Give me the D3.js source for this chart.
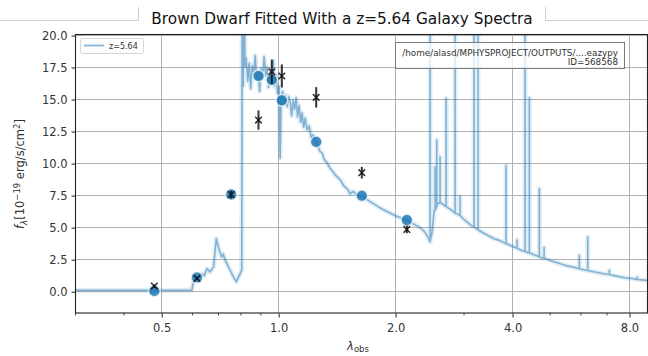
<!DOCTYPE html>
<html>
<head>
<meta charset="utf-8">
<script src="https://cdn.jsdelivr.net/npm/d3@7"></script>
<style>
  html, body { margin: 0; padding: 0; background: #fff; }
  svg { display: block; font-family: "DejaVu Sans", sans-serif; }
</style>
</head>
<body>
<svg id="chart" width="648" height="356"></svg>
<script>
// Template spectrum, continuum samples (wavelength in micron, f_lambda in 1e-19 erg/s/cm2)
const specWave = [0.300, 0.600, 0.605, 0.619, 0.636, 0.645, 0.656, 0.668, 0.682, 0.693, 0.702, 0.709, 0.716, 0.722, 0.731, 0.745, 0.760, 0.780, 0.798, 0.806,
  0.808, 0.813, 0.817, 0.822, 0.827, 0.835, 0.842, 0.850, 0.857, 0.865, 0.873, 0.880, 0.888, 0.896, 0.904, 0.912, 0.920, 0.929, 0.937, 0.945, 0.954, 0.962, 0.971, 0.979, 0.988, 0.997,
  1.006, 1.012, 1.018, 1.027, 1.036, 1.045, 1.055, 1.064, 1.074, 1.083, 1.093, 1.103, 1.112, 1.122, 1.132, 1.143, 1.153, 1.163, 1.174, 1.187, 1.202, 1.216, 1.230,
  1.253, 1.267, 1.282, 1.298, 1.313, 1.337, 1.361, 1.385, 1.410, 1.444, 1.478, 1.514, 1.532, 1.559, 1.597, 1.645, 1.694, 1.745, 1.787, 1.830, 1.885, 1.941,
  2.000, 2.060, 2.148, 2.212, 2.278, 2.333, 2.389, 2.432, 2.461, 2.490, 2.520, 2.565, 2.626, 2.706, 2.803, 2.905, 3.010, 3.119, 3.232, 3.349, 3.470, 3.596, 3.725,
  3.882, 4.047, 4.219, 4.398, 4.585, 4.777, 5.010, 5.253, 5.510, 5.809, 6.164, 6.541, 6.940, 7.362, 7.813, 8.288, 8.900];
const specFlux = [0.08, 0.08, 0.73, 1.0, 1.38, 1.2, 1.77, 1.5, 1.9, 4.1, 3.46, 3.0, 2.68, 2.9, 2.4, 1.9, 1.38, 0.73, 1.38, 1.64,
  24, 16, 24, 17.5, 18.2, 16.4, 17.8, 15.8, 17.6, 16.9, 18.4, 16.5, 17.2, 15.6, 17.4, 16.6, 18.3, 16.8, 17.5, 15.9, 17.1, 16.3, 18.0, 16.0, 16.9, 15.4,
  16.0, 10.4, 15.2, 15.6, 14.6, 15.3, 14.4, 15.2, 14.8, 13.7, 14.9, 14.2, 15.1, 13.6, 14.5, 13.2, 13.9, 12.8, 13.5, 12.6, 12.9, 12.0, 12.2,
  11.6, 11.3, 10.9, 10.8, 10.3, 10.0, 9.6, 9.3, 9.0, 8.7, 8.2, 7.9, 7.6, 7.8, 7.5, 7.4, 7.15, 6.9, 6.7, 6.5, 6.3, 6.1,
  5.9, 5.75, 5.5, 5.3, 5.1, 4.9, 4.6, 4.2, 3.85, 4.6, 6.3, 6.8, 6.9, 6.6, 6.3, 6.0, 5.6, 5.2, 4.9, 4.6, 4.35, 4.1, 3.95,
  3.7, 3.45, 3.2, 3.0, 2.8, 2.6, 2.4, 2.2, 2.0, 1.85, 1.65, 1.5, 1.35, 1.2, 1.05, 0.95, 0.85];

// Emission lines on top of the continuum
const lineWave = [2.461, 2.535, 2.560, 2.611, 2.706, 2.854, 2.940, 3.194, 3.270, 3.860, 4.121, 4.320, 4.431, 4.702, 4.836, 5.959, 6.263, 7.121, 8.404];
const lineBase = [3.9, 6.3, 6.6, 6.9, 6.6, 6.1, 5.9, 5.0, 4.8, 3.7, 3.35, 3.1, 3.0, 2.7, 2.6, 1.75, 1.62, 1.3, 0.92];
const linePeak = [24, 9.7, 11.8, 10.5, 15.05, 24, 7.4, 24, 24, 9.8, 4.0, 24, 15.1, 8.0, 3.4, 2.8, 4.24, 1.64, 1.1];

// Photometry: template fluxes in each band and observed fluxes with errors
const bandWave  = [0.480, 0.618, 0.757, 0.890, 0.963, 1.022, 1.253, 1.642, 2.144];
const modelFlux = [0.02, 1.07, 7.55, 16.8, 16.5, 14.9, 11.66, 7.45, 5.55];
const obsFlux   = [0.40, 1.00, 7.55, 13.36, 17.13, 16.8, 15.13, 9.25, 4.82];
const obsErr    = [0.12, 0.10, 0.30, 0.75, 0.95, 0.90, 0.80, 0.45, 0.30];

const xMajor = [0.5, 1.0, 2.0, 4.0, 8.0];
const xMinor = [0.3, 0.4, 0.6, 0.7, 0.8, 0.9, 3.0, 5.0, 6.0, 7.0];
const yTicks = [0, 2.5, 5, 7.5, 10, 12.5, 15, 17.5, 20];

const titleText = "Brown Dwarf Fitted With a z=5.64 Galaxy Spectra";
const legendLabel = "z=5.64";
const infoLines = ["/home/alasd/MPHYSPROJECT/OUTPUTS/....eazypy", "ID=568568"];

const W = 648, H = 356;
const plotL = 75, plotR = 647, plotT = 35, plotB = 313;
const blue = "#1f77b4";

const svg = d3.select("#chart");
const x = d3.scaleLog().base(2).domain([0.3, 8.9]).range([plotL, plotR]);
const y = d3.scaleLinear().domain([-1.7, 20]).range([plotB, plotT]);

// title and the frame line it sits on
svg.append("path")
  .attr("d", `M0,20.5 H138.5 V7 M545.5,7 V20.5 H${W}`)
  .attr("fill", "none").attr("stroke", "#cfcfcf").attr("stroke-width", 1);
svg.append("text").attr("x", 342).attr("y", 24).attr("text-anchor", "middle")
  .attr("font-size", 15.3).attr("fill", "#111").text(titleText);

svg.append("defs").append("clipPath").attr("id", "plotclip")
  .append("rect").attr("x", plotL).attr("y", plotT).attr("width", plotR - plotL).attr("height", plotB - plotT);

// grid
const grid = svg.append("g").attr("stroke", "#b0b0b0").attr("stroke-width", 1);
grid.selectAll(".gx").data(xMajor).join("line")
  .attr("x1", d => Math.round(x(d)) + 0.5).attr("x2", d => Math.round(x(d)) + 0.5)
  .attr("y1", plotT).attr("y2", plotB);
grid.selectAll(".gy").data(yTicks).join("line")
  .attr("y1", d => Math.round(y(d)) + 0.5).attr("y2", d => Math.round(y(d)) + 0.5)
  .attr("x1", plotL).attr("x2", plotR);

// spectrum: continuum with emission lines merged in wavelength order
const specPts = specWave.map((w, i) => ({w, f: specFlux[i], o: 0}));
lineWave.forEach((w, i) => {
  specPts.push({w, f: lineBase[i], o: 1});
  specPts.push({w, f: linePeak[i], o: 2});
  specPts.push({w, f: lineBase[i], o: 3});
});
specPts.sort((a, b) => a.w - b.w || a.o - b.o);

const plot = svg.append("g").attr("clip-path", "url(#plotclip)");
const lineGen = d3.line().x(d => x(d.w)).y(d => y(d.f));
plot.append("path").datum(specPts).attr("d", lineGen)
  .attr("fill", "none").attr("stroke", blue).attr("stroke-opacity", 0.13)
  .attr("stroke-width", 5).attr("stroke-linejoin", "round");
plot.append("path").datum(specPts).attr("d", lineGen)
  .attr("fill", "none").attr("stroke", blue).attr("stroke-opacity", 0.5)
  .attr("stroke-width", 1.6).attr("stroke-linejoin", "round");

// template photometry
plot.selectAll(".model").data(bandWave).join("circle")
  .attr("cx", d => x(d)).attr("cy", (d, i) => y(modelFlux[i])).attr("r", 5.8)
  .attr("fill", blue).attr("fill-opacity", 0.85)
  .attr("stroke", "#fff").attr("stroke-opacity", 0.7).attr("stroke-width", 1.5);

// observed photometry with error bars
const obs = plot.append("g").attr("stroke", "#111").attr("stroke-opacity", 0.85);
obs.selectAll(".err").data(bandWave).join("line")
  .attr("x1", d => x(d)).attr("x2", d => x(d))
  .attr("y1", (d, i) => y(obsFlux[i] - obsErr[i])).attr("y2", (d, i) => y(obsFlux[i] + obsErr[i]))
  .attr("stroke-width", 2);
obs.selectAll(".mark").data(bandWave).join("path")
  .attr("d", (d, i) => {
    const cx = x(d), cy = y(obsFlux[i]), s = 3.3;
    return `M${cx - s},${cy - s}L${cx + s},${cy + s}M${cx - s},${cy + s}L${cx + s},${cy - s}`;
  })
  .attr("stroke-width", 1.6);

// axes frame
svg.append("rect").attr("x", plotL + 0.5).attr("y", plotT - 0.5).attr("width", plotR - plotL).attr("height", plotB - plotT + 0.5)
  .attr("fill", "none").attr("stroke", "#222").attr("stroke-width", 1.1);

// x axis
const xAxis = svg.append("g").attr("transform", `translate(0.5,${plotB + 0.5})`)
  .call(d3.axisBottom(x).tickValues(xMajor).tickFormat(d3.format(".1f")).tickSize(4).tickPadding(6));
xAxis.select(".domain").remove();
xAxis.selectAll("text").attr("font-size", 11.5).attr("fill", "#333").attr("font-family", "DejaVu Sans");
xAxis.selectAll("line").attr("stroke", "#222");
svg.append("g").selectAll("line").data(xMinor).join("line")
  .attr("x1", d => x(d) + 0.5).attr("x2", d => x(d) + 0.5)
  .attr("y1", plotB).attr("y2", plotB + 2.5).attr("stroke", "#222").attr("stroke-width", 0.8);

// y axis
const yAxis = svg.append("g").attr("transform", `translate(${plotL + 0.5},0.5)`)
  .call(d3.axisLeft(y).tickValues(yTicks).tickFormat(d3.format(".1f")).tickSize(4).tickPadding(4));
yAxis.select(".domain").remove();
yAxis.selectAll("text").attr("font-size", 11.5).attr("fill", "#333").attr("font-family", "DejaVu Sans");
yAxis.selectAll("line").attr("stroke", "#222");

// axis labels
const xl = svg.append("text").attr("x", 358).attr("y", 350).attr("text-anchor", "middle")
  .attr("font-size", 11.5).attr("fill", "#333");
xl.append("tspan").attr("font-style", "italic").text("λ");
xl.append("tspan").attr("font-size", 8.5).attr("dy", 2).text("obs");

const yl = svg.append("text").attr("transform", `translate(24,${(plotT + plotB) / 2}) rotate(-90)`)
  .attr("text-anchor", "middle").attr("font-size", 11.5).attr("fill", "#333");
yl.append("tspan").attr("font-style", "italic").text("f");
yl.append("tspan").attr("font-style", "italic").attr("font-size", 8.5).attr("dy", 2.5).text("λ");
yl.append("tspan").attr("dy", -2.5).text("[10");
yl.append("tspan").attr("font-size", 8.5).attr("dy", -4.5).text("−19");
yl.append("tspan").attr("dy", 4.5).text(" erg/s/cm");
yl.append("tspan").attr("font-size", 8.5).attr("dy", -4.5).text("2");
yl.append("tspan").attr("dy", 4.5).text("]");

// legend
const lg = svg.append("g");
lg.append("rect").attr("x", 80.5).attr("y", 38.5).attr("width", 63).attr("height", 15).attr("rx", 2)
  .attr("fill", "#fff").attr("fill-opacity", 0.8).attr("stroke", "#d6d6d6");
lg.append("line").attr("x1", 84).attr("x2", 104).attr("y1", 45.5).attr("y2", 45.5)
  .attr("stroke", blue).attr("stroke-opacity", 0.5).attr("stroke-width", 2);
lg.append("text").attr("x", 109).attr("y", 48.5).attr("font-size", 8).attr("fill", "#333").text(legendLabel);

// info box
const ib = svg.append("g");
ib.append("rect").attr("x", 395.5).attr("y", 42.5).attr("width", 229).attr("height", 26)
  .attr("fill", "#fff").attr("fill-opacity", 0.75).attr("stroke", "#7a7a7a");
ib.selectAll("text").data(infoLines).join("text")
  .attr("x", 618).attr("y", (d, i) => 56 + i * 9).attr("text-anchor", "end")
  .attr("font-size", 8.8).attr("fill", "#333").text(d => d);
</script>
</body>
</html>
